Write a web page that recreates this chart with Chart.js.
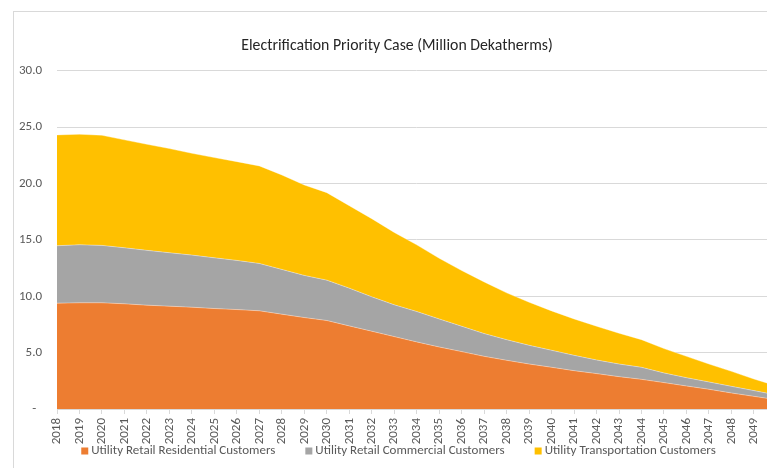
<!DOCTYPE html>
<html>
<head>
<meta charset="utf-8">
<script src="https://cdn.jsdelivr.net/npm/chart.js@4.4.1/dist/chart.umd.min.js"></script>
<style>
  html, body { margin: 0; padding: 0; overflow: hidden; background: #fff; width: 767px; height: 470px; }
  #box {
    position: absolute; left: 13px; top: 11px;
    width: 782px; height: 456px;
    border-left: 1px solid #d9d9d9; border-top: 1px solid #d9d9d9;
  }
</style>
</head>
<body>
<div id="box"><canvas id="chart"></canvas></div>
<script>
// Categories (years)
const years = ['2018','2019','2020','2021','2022','2023','2024','2025','2026','2027','2028',
  '2029','2030','2031','2032','2033','2034','2035','2036','2037','2038','2039','2040',
  '2041','2042','2043','2044','2045','2046','2047','2048','2049','2050'];

// Million Dekatherms
const residential = [9.39, 9.42, 9.42, 9.33, 9.21, 9.12, 9.03, 8.91, 8.82, 8.71, 8.41,
  8.11, 7.85, 7.37, 6.90, 6.42, 5.95, 5.50, 5.09, 4.67, 4.32, 3.99, 3.70,
  3.40, 3.14, 2.87, 2.63, 2.34, 2.04, 1.75, 1.42, 1.12, 0.83];
const commercial = [5.09, 5.15, 5.09, 4.97, 4.86, 4.74, 4.62, 4.50, 4.36, 4.20, 3.97,
  3.74, 3.58, 3.35, 3.05, 2.82, 2.70, 2.49, 2.25, 2.02, 1.83, 1.66, 1.51,
  1.36, 1.21, 1.12, 1.07, 0.86, 0.74, 0.65, 0.59, 0.51, 0.42];
const transportation = [9.83, 9.80, 9.77, 9.57, 9.41, 9.24, 9.03, 8.89, 8.76, 8.65, 8.38,
  8.02, 7.76, 7.31, 6.93, 6.42, 5.91, 5.38, 4.94, 4.58, 4.15, 3.82, 3.49,
  3.23, 2.99, 2.73, 2.45, 2.16, 1.89, 1.59, 1.33, 1.03, 0.80];

const yTicks = [0, 5, 10, 15, 20, 25, 30];

const family = "Carlito, 'Liberation Sans', Arial, sans-serif";
Chart.defaults.font.family = family;
Chart.defaults.color = '#595959';

const edge = 'rgba(255,255,255,0.45)';

// Excel-style legend: small squares, wide gaps between items, close under the axis labels
const bottomLegend = {
  id: 'bottomLegend',
  afterDraw(chart) {
    const c = chart.ctx;
    const box = 7, gap = 3, space = 30;
    c.save();
    c.font = '13px ' + family;
    c.textBaseline = 'middle';
    const items = chart.data.datasets.map(d => ({
      text: d.label, color: d.backgroundColor,
      w: box + gap + c.measureText(d.label).width
    }));
    const total = items.reduce((s, it) => s + it.w, 0) + space * (items.length - 1);
    let x = (chart.width - 13) / 2 - total / 2;
    const y = chart.chartArea.bottom + 42;
    items.forEach(it => {
      c.fillStyle = it.color;
      c.fillRect(x, y - box / 2, box, box);
      c.fillStyle = '#595959';
      c.fillText(it.text, x + box + gap, y);
      x += it.w + space;
    });
    c.restore();
  }
};

const ctx = document.getElementById('chart').getContext('2d');
const chart = new Chart(ctx, {
  type: 'line',
  data: {
    labels: years,
    datasets: [
      { label: 'Utility Retail Residential Customers', data: residential,
        backgroundColor: '#ED7D31', borderColor: edge, borderWidth: 0.8, fill: 'origin' },
      { label: 'Utility Retail Commercial Customers', data: commercial,
        backgroundColor: '#A5A5A5', borderColor: edge, borderWidth: 0.8, fill: '-1' },
      { label: 'Utility Transportation Customers', data: transportation,
        backgroundColor: '#FFC000', borderColor: edge, borderWidth: 0.8, fill: '-1' }
    ]
  },
  options: {
    responsive: true,
    maintainAspectRatio: false,
    animation: false,
    elements: { point: { radius: 0, hoverRadius: 0 }, line: { tension: 0 } },
    layout: { padding: { left: 0, right: 16, top: 0, bottom: 23 } },
    plugins: {
      title: {
        display: true,
        text: 'Electrification Priority Case (Million Dekatherms)',
        color: '#262626',
        font: { size: 15.8, weight: 'normal' },
        padding: { top: 24.4, bottom: 15.4 }
      },
      legend: { display: false },
      tooltip: { enabled: false }
    },
    scales: {
      x: {
        offset: false,
        grid: { drawOnChartArea: false, color: '#d9d9d9', tickLength: 5 },
        border: { color: '#d9d9d9' },
        ticks: { autoSkip: false, minRotation: 90, maxRotation: 90, padding: 4, font: { size: 13 } },
        afterFit: (s) => { s.height = 36; }
      },
      y: {
        stacked: true,
        min: 0,
        max: 30,
        afterBuildTicks: (s) => { s.ticks = yTicks.map(v => ({ value: v })); },
        grid: { color: '#d9d9d9', drawTicks: false },
        border: { display: false },
        ticks: {
          padding: 15,
          font: { size: 13 },
          callback: (v) => v === 0 ? '-  ' : v.toFixed(1)
        },
        afterFit: (s) => { s.width = 43; }
      }
    }
  },
  plugins: [bottomLegend]
});
</script>
</body>
</html>
